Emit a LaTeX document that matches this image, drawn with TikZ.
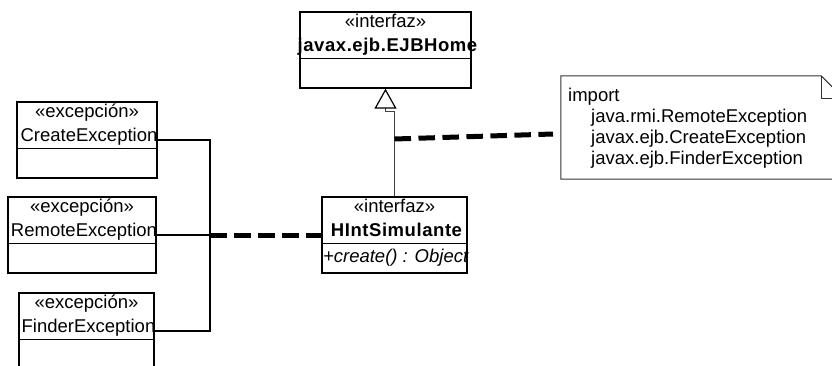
\documentclass[tikz,border=0pt]{standalone}
\usepackage{fontspec}
\setmainfont{Liberation Sans}
\newfontfamily\spacedsans[LetterSpace=3]{Liberation Sans}
\usetikzlibrary{arrows.meta,calc}
\begin{document}
\begin{tikzpicture}[x=1pt,y=-1pt,
  classbox/.style={draw=black, line width=1.3pt, fill=white, inner sep=0pt, minimum height=76pt},
  divider/.style={draw=black, line width=1.3pt},
  stereo/.style={anchor=base, inner sep=0pt, font=\fontsize{18.5}{21}\selectfont},
  boldname/.style={anchor=base, inner sep=0pt, font=\spacedsans\bfseries\fontsize{18.5}{21}\selectfont},
  plainname/.style={anchor=base, inner sep=0pt, font=\fontsize{18.5}{21}\selectfont},
  opname/.style={anchor=base west, inner sep=0pt, font=\itshape\fontsize{18.5}{21}\selectfont},
  notetext/.style={anchor=base west, inner sep=0pt, font=\fontsize{18.5}{21}\selectfont},
  notebox/.style={inner sep=0pt, minimum width=283pt, minimum height=103pt},
  noteline/.style={draw=black!80, line width=1pt, fill=white},
  link/.style={draw=black, line width=1.2pt},
  dep/.style={draw=black, line width=5pt, dash pattern=on 16.5pt off 7.5pt},
  gen/.style={draw=black!75, line width=1pt,
    -{Triangle[length=20pt, width=22pt, fill=white, color=black, line width=1.2pt]}},
]
\clip (0,0) rectangle (832,366);
\fill[white] (0,0) rectangle (832,366);

% interface javax.ejb.EJBHome
\node[classbox, minimum width=171pt] (ejb) at (385.5,50) {};
\draw[divider] ($(ejb.north west)+(0,47)$) -- ($(ejb.north east)+(0,47)$);
\node[stereo] (ejb-st) at ($(ejb.north)+(0,16)$) {«interfaz»};
\node[boldname] (ejb-nm) at ($(ejb.north)+(2,40)$) {javax.ejb.EJBHome};

% interface HIntSimulante
\node[classbox, minimum width=145pt] (hint) at (394.5,235) {};
\draw[divider] ($(hint.north west)+(0,47)$) -- ($(hint.north east)+(0,47)$);
\node[stereo] (hint-st) at ($(hint.north)+(0,16)$) {«interfaz»};
\node[boldname] (hint-nm) at ($(hint.north)+(2,40)$) {HIntSimulante};
\node[opname] (hint-op) at ($(hint.north west)+(1.5,66)$) {+create() : Object};

% exception classes
\node[classbox, minimum width=140pt] (create) at (87,140) {};
\draw[divider] ($(create.north west)+(0,47)$) -- ($(create.north east)+(0,47)$);
\node[stereo] (create-st) at ($(create.north)+(0,16)$) {«excepción»};
\node[plainname] (create-nm) at ($(create.north)+(2,40)$) {CreateException};

\node[classbox, minimum width=148pt] (remote) at (82,235) {};
\draw[divider] ($(remote.north west)+(0,47)$) -- ($(remote.north east)+(0,47)$);
\node[stereo] (remote-st) at ($(remote.north)+(0,16)$) {«excepción»};
\node[plainname] (remote-nm) at ($(remote.north)+(2,40)$) {RemoteException};

\node[classbox, minimum width=135pt] (finder) at (86.5,331) {};
\draw[divider] ($(finder.north west)+(0,47)$) -- ($(finder.north east)+(0,47)$);
\node[stereo] (finder-st) at ($(finder.north)+(0,16)$) {«excepción»};
\node[plainname] (finder-nm) at ($(finder.north)+(2,40)$) {FinderException};

% note with folded corner
\node[notebox] (note) at (702.5,127.5) {};
\path[noteline] (note.north west) -- ($(note.north east)+(-23,0)$)
  -- ($(note.north east)+(0,23)$) -- (note.south east) -- (note.south west) -- cycle;
\draw[noteline, fill=none] ($(note.north east)+(-23,0)$) |- ($(note.north east)+(0,23)$);
\node[notetext] (note-l1) at (568,102) {import};
\node[notetext] (note-l2) at (591,123) {java.rmi.RemoteException};
\node[notetext] (note-l3) at (591,144) {javax.ejb.CreateException};
\node[notetext] (note-l4) at (591,165) {javax.ejb.FinderException};

% generalization HIntSimulante -> EJBHome
\coordinate (jog) at (0,112);
\draw[gen] (hint.north) -- (hint.north |- jog) -- (ejb.south |- jog) -- (ejb.south);

% note attachment
\coordinate (yline) at (0,139);
\coordinate (genpt) at (hint.north |- yline);
\coordinate (notelink) at (553,134);
\draw[dep] (genpt) -- (notelink);

% exceptions bus
\coordinate (bus) at (210,235);
\draw[link] (create.east) -- (create.east -| bus) -- (finder.east -| bus) -- (finder.east);
\draw[link] (remote.east) -- (bus);
\draw[dep] (bus) -- (hint.west);
\end{tikzpicture}
\end{document}
